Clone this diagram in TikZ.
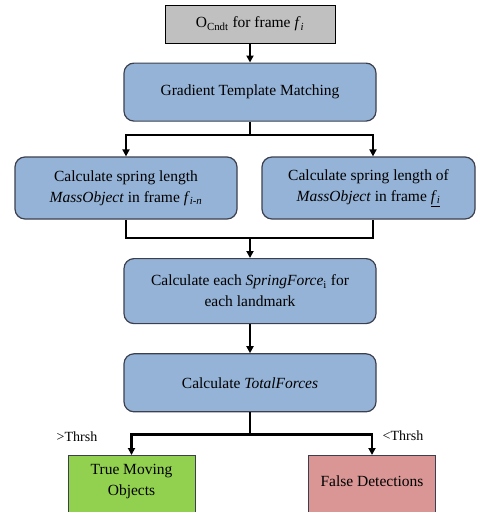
\documentclass[tikz,border=0pt]{standalone}
\usepackage{fontspec}
\setmainfont{Liberation Serif}
\usepackage{xcolor}
\usepackage{tikz}
\usetikzlibrary{
  arrows.meta,
  positioning,
  calc
}
\definecolor{StepBlue}{RGB}{149,179,215}
\definecolor{EdgeGray}{RGB}{60,64,78}
\definecolor{SrcGray}{RGB}{192,192,192}
\definecolor{TrueGreen}{RGB}{146,208,80}
\definecolor{FalseRed}{RGB}{217,150,148}
\tikzset{
  %% -- process boxes --
  srcbox/.style = {
    rectangle, draw = black, fill = SrcGray, line width = 1pt,
    minimum width = 170pt, minimum height = 38pt, inner sep = 0pt,
    align = center, font = \fontsize{15.5}{21}\selectfont
  },
  stepbox/.style = {
    rectangle, rounded corners = 10pt,
    draw = EdgeGray, fill = StepBlue, line width = 1.2pt,
    minimum width = 252pt, minimum height = 58pt, inner sep = 0pt,
    align = center, font = \fontsize{15.5}{21}\selectfont
  },
  outbox/.style args = {#1}{
    rectangle, draw = EdgeGray, fill = #1, line width = 1pt,
    minimum width = 127pt, minimum height = 62pt, inner sep = 0pt,
    align = center, font = \fontsize{15.5}{21}\selectfont
  },
  lbl/.style  = {font = \fontsize{14}{16}\selectfont, inner sep = 0pt},
  %% -- connectors --
  line/.style = {line width = 2.6pt, color = black},
  arr/.style  = {line, -{Triangle[length = 7pt, width = 7pt]}},
}
\begin{document}
\begin{tikzpicture}[x = 1pt, y = -1pt, node distance = 19pt]
  \useasboundingbox (0,0) rectangle (484,512);

  %% -- source and matching --
  \node[srcbox] (src) at (250,24)
    {O\textsubscript{Cndt} for frame \textit{f}\textsubscript{\textit{i}}};
  \node[stepbox, below=19pt of src] (grad) {Gradient Template Matching};

  %% fork
  \coordinate (fk1) at (250,135);

  %% -- spring lengths --
  \node[stepbox, minimum width = 222pt, minimum height = 62pt] (lenA) at (126,188)
    {Calculate spring length\\\textit{MassObject} in frame \textit{f}\textsubscript{\textit{i-n}}};
  \node[stepbox, minimum width = 213pt, minimum height = 62pt] (lenB) at (368.5,188)
    {Calculate spring length of\\\textit{MassObject} in frame \underline{\textit{f}\textsubscript{\textit{i}}}};

  %% join
  \coordinate (fk2) at (250,238);

  %% -- forces --
  \node[stepbox, minimum height = 65pt, below=20pt of fk2] (spring)
    {Calculate each \textit{SpringForce}\textsubscript{i} for\\each landmark};
  \node[stepbox, below=29pt of spring] (total) {Calculate \textit{TotalForces}};

  %% fork on threshold
  \coordinate[below=22pt of total] (fk3);

  %% -- outcomes --
  \node[outbox = TrueGreen, anchor = north, text depth = 14pt] (tmo) at (131.5,455)
    {True Moving\\Objects};
  \node[outbox = FalseRed, anchor = north, text depth = 10pt] (fd) at (372,455)
    {False Detections};
  \node[lbl] (hi) at (77,437) {>Thrsh};
  \node[lbl] (lo) at (403,436) {<Thrsh};

  %% -- arrows --
  \draw[arr]  (src)  -- (grad);
  \draw[line] (grad.south) -- (fk1);
  \draw[arr]  (fk1) -| (lenA.north);
  \draw[arr]  (fk1) -| ($(lenB.north)+(4.5,0)$);
  \draw[line] (lenA.south) |- (fk2) -| ($(lenB.south)+(4.5,0)$);
  \draw[arr]  (fk2)  -- (spring);
  \draw[arr]  (spring) -- (total);
  \draw[line] (total.south) -- (fk3);
  \draw[arr]  (fk3) -| (tmo.north);
  \draw[arr]  (fk3) -| (fd.north);

\end{tikzpicture}
\end{document}
